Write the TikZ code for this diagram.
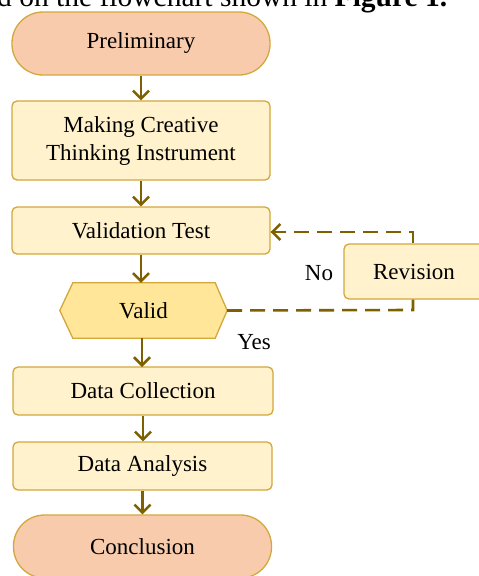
\documentclass[tikz,border=0pt]{standalone}
\usepackage{fontspec}
\setmainfont{Liberation Serif}
\usetikzlibrary{arrows.meta}
\definecolor{peach}{HTML}{F8CBAD}
\definecolor{cream}{HTML}{FFF2CC}
\definecolor{gold}{HTML}{FFE699}
\definecolor{rim}{HTML}{D2A83C}
\definecolor{olive}{HTML}{7F6000}
\tikzset{
  term/.style={draw=rim, fill=peach, line width=1.3pt, rounded corners=31pt, minimum width=258pt, minimum height=63pt, inner sep=0pt, font=\fontsize{23}{27}\selectfont},
  proc/.style={draw=rim, fill=cream, line width=1.3pt, rounded corners=5pt, minimum width=258pt, inner sep=0pt, align=center, font=\fontsize{23}{28}\selectfont},
  flow/.style={draw=olive, line width=2.5pt, -{Straight Barb[length=8pt,width=16pt,line width=2.5pt]}},
  back/.style={draw=olive, line width=2.6pt, dash pattern=on 15pt off 8pt},
  lbl/.style={inner sep=0pt, font=\fontsize{23}{27}\selectfont}
}
\begin{document}
\begin{tikzpicture}[x=1pt,y=-1pt]
\useasboundingbox (0,0) rectangle (479,576);
\clip (0,0) rectangle (479,576);
\node[anchor=base west, inner sep=0pt, font=\fontsize{29.5}{33}\selectfont] (head) at (-3,6) {d on the flowchart shown in \textbf{Figure 1.}};
\node[term] (prelim) at (141,43.5) {Preliminary};
\node[proc, minimum height=79pt] (making) at (141,140.5) {Making Creative\\Thinking Instrument};
\node[proc, minimum height=47pt] (valtest) at (141,230.5) {Validation Test};
\node[minimum width=167pt, minimum height=55pt, inner sep=0pt] (valid) at (143.5,310.5) {};
\fill[gold, draw=rim, line width=1.3pt] (valid.west) -- ([xshift=13pt]valid.north west) -- ([xshift=-12pt]valid.north east) -- (valid.east) -- ([xshift=-12pt]valid.south east) -- ([xshift=13pt]valid.south west) -- cycle;
\node[lbl] (validtext) at (valid.center) {Valid};
\node[proc, minimum width=140pt, minimum height=55pt] (revision) at (414,271.5) {Revision};
\node[proc, minimum width=260pt, minimum height=48pt] (datacol) at (143,391) {Data Collection};
\node[proc, minimum width=259pt, minimum height=48pt] (dataana) at (142.5,466) {Data Analysis};
\node[term] (concl) at (142.5,546.5) {Conclusion};
\node[lbl] (no) at (319,273) {No};
\node[lbl] (yes) at (254,342) {Yes};
\coordinate (rtop) at (413,232);
\coordinate (rbot) at (413,310);
\draw[flow] (prelim.south) -- (prelim.south |- making.north);
\draw[flow] (making.south) -- (making.south |- valtest.north);
\draw[flow] (valtest.south) -- (valtest.south |- valid.north);
\draw[flow] (142,338) -- (142,367);
\draw[flow] (datacol.south) -- (datacol.south |- dataana.north);
\draw[flow] (dataana.south) -- (dataana.south |- concl.north);
\draw[back] (revision.north -| rtop) -- (rtop) -- (valtest.east |- rtop);
\draw[flow] ([xshift=14pt]valtest.east |- rtop) -- (valtest.east |- rtop);
\draw[back] (valid.east) -- (rbot) -- (revision.south -| rbot);
\end{tikzpicture}
\end{document}
